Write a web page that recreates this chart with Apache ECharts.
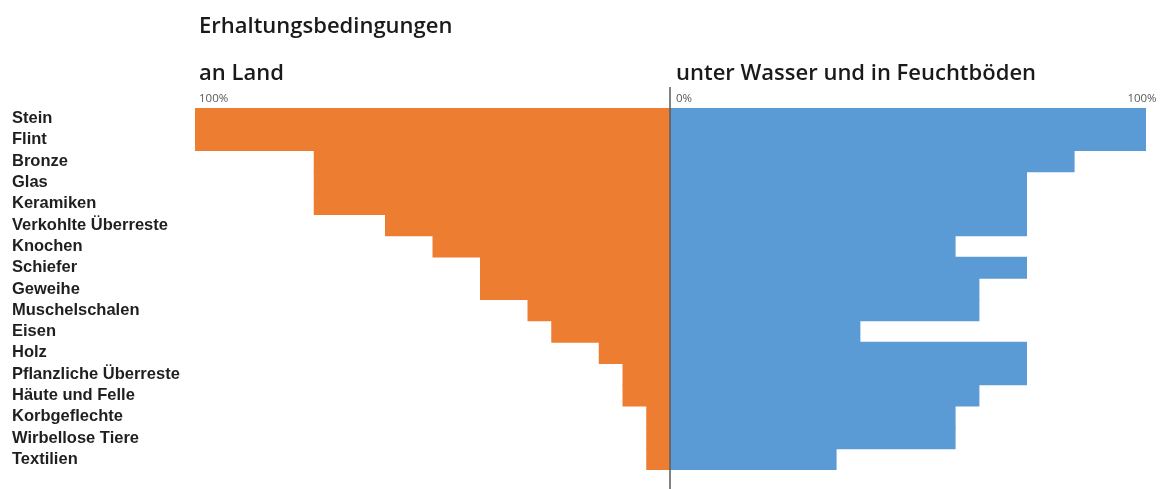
<!DOCTYPE html>
<html>
<head>
<meta charset="utf-8">
<script src="https://cdn.jsdelivr.net/npm/echarts@6/dist/echarts.min.js"></script>
<style>
  html, body { margin: 0; padding: 0; background: #fff; }
  #chart { width: 1160px; height: 489px; }
</style>
</head>
<body>
<div id="chart"></div>
<script>
// Materials, top to bottom
const categories = [
  'Stein', 'Flint', 'Bronze', 'Glas', 'Keramiken', 'Verkohlte Überreste',
  'Knochen', 'Schiefer', 'Geweihe', 'Muschelschalen', 'Eisen', 'Holz',
  'Pflanzliche Überreste', 'Häute und Felle', 'Korbgeflechte',
  'Wirbellose Tiere', 'Textilien'
];
// Preservation on land (%)
const landValues = [100, 100, 75, 75, 75, 60, 50, 40, 40, 30, 25, 15, 10, 10, 5, 5, 5];
// Preservation under water and in wetlands (%)
const wetValues = [100, 100, 85, 75, 75, 75, 60, 75, 65, 65, 40, 75, 75, 65, 60, 60, 35];
// Axis tick labels
const tickValues = [0, 100];
const tickLabels = ['0%', '100%'];

const titleText = 'Erhaltungsbedingungen';
const leftHeading = 'an Land';
const rightHeading = 'unter Wasser und in Feuchtböden';

const ORANGE = '#ED7D31';
const BLUE = '#5B9BD5';
const headingStyle = { fontFamily: 'Open Sans', fontWeight: 600, fontSize: 22, color: '#1a1a1a' };
const tickStyle = { fontFamily: 'Open Sans', fontSize: 11.5, color: '#595959' };

function tickFormatter(v) {
  const i = tickValues.indexOf(v);
  return i >= 0 ? tickLabels[i] : '';
}

const chart = echarts.init(document.getElementById('chart'), null, { renderer: 'canvas' });

const option = {
  animation: false,
  backgroundColor: '#fff',
  title: [
    { text: titleText, left: 199, top: 16, padding: 0, textStyle: headingStyle },
    { text: leftHeading, left: 199, top: 63, padding: 0, textStyle: headingStyle },
    { text: rightHeading, left: 676, top: 63, padding: 0, textStyle: headingStyle }
  ],
  grid: [
    { left: 195, top: 108, width: 475, height: 362, outerBoundsMode: 'none' },
    { left: 670, top: 108, width: 476, height: 362, outerBoundsMode: 'none' }
  ],
  xAxis: [
    {
      gridIndex: 0, type: 'value', min: 0, max: 100, interval: 100,
      inverse: true, position: 'top',
      axisLine: { show: false }, axisTick: { show: false }, splitLine: { show: false },
      axisLabel: {
        ...tickStyle, margin: 3, align: 'left', padding: [0, 0, 0, 4],
        formatter: v => (v === 100 ? tickFormatter(v) : '')
      }
    },
    {
      gridIndex: 1, type: 'value', min: 0, max: 100, interval: 100,
      position: 'top',
      axisLine: { show: false }, axisTick: { show: false }, splitLine: { show: false },
      axisLabel: {
        ...tickStyle, margin: 3,
        alignMinLabel: 'left', alignMaxLabel: 'center',
        formatter: v => (v === 0 ? '{z|' + tickFormatter(v) + '}' : '{h|' + tickFormatter(v) + '}'),
        rich: {
          z: { ...tickStyle, padding: [0, 0, 0, 6] },
          h: { ...tickStyle, padding: [0, 8, 0, 0] }
        }
      }
    }
  ],
  yAxis: [
    {
      gridIndex: 0, type: 'category', data: categories, inverse: true,
      axisLine: { show: false }, axisTick: { show: false }, splitLine: { show: false },
      axisLabel: {
        interval: 0, hideOverlap: false,
        align: 'left', margin: 183, padding: [2, 0, 0, 0], lineHeight: 16,
        fontFamily: 'Liberation Sans', fontWeight: 'bold', fontSize: 16.5, color: '#1f1f1f'
      }
    },
    {
      gridIndex: 1, type: 'category', data: categories, inverse: true,
      axisLine: { show: false }, axisTick: { show: false }, splitLine: { show: false },
      axisLabel: { show: false }
    }
  ],
  series: [
    {
      name: leftHeading, type: 'bar', xAxisIndex: 0, yAxisIndex: 0,
      data: landValues, barWidth: '104%',
      itemStyle: { color: ORANGE }
    },
    {
      name: rightHeading, type: 'bar', xAxisIndex: 1, yAxisIndex: 1,
      data: wetValues, barWidth: '104%',
      itemStyle: { color: BLUE }
    }
  ]
};

chart.setOption(option);

// Zero line between the two halves, extending above and below the bars
const zeroX = chart.convertToPixel({ xAxisIndex: 1 }, 0);
chart.setOption({
  graphic: [{
    type: 'line', z: 100,
    shape: { x1: zeroX, y1: 87, x2: zeroX, y2: 489 },
    style: { stroke: '#5a5a5a', lineWidth: 1.5 }
  }]
});
</script>
</body>
</html>
